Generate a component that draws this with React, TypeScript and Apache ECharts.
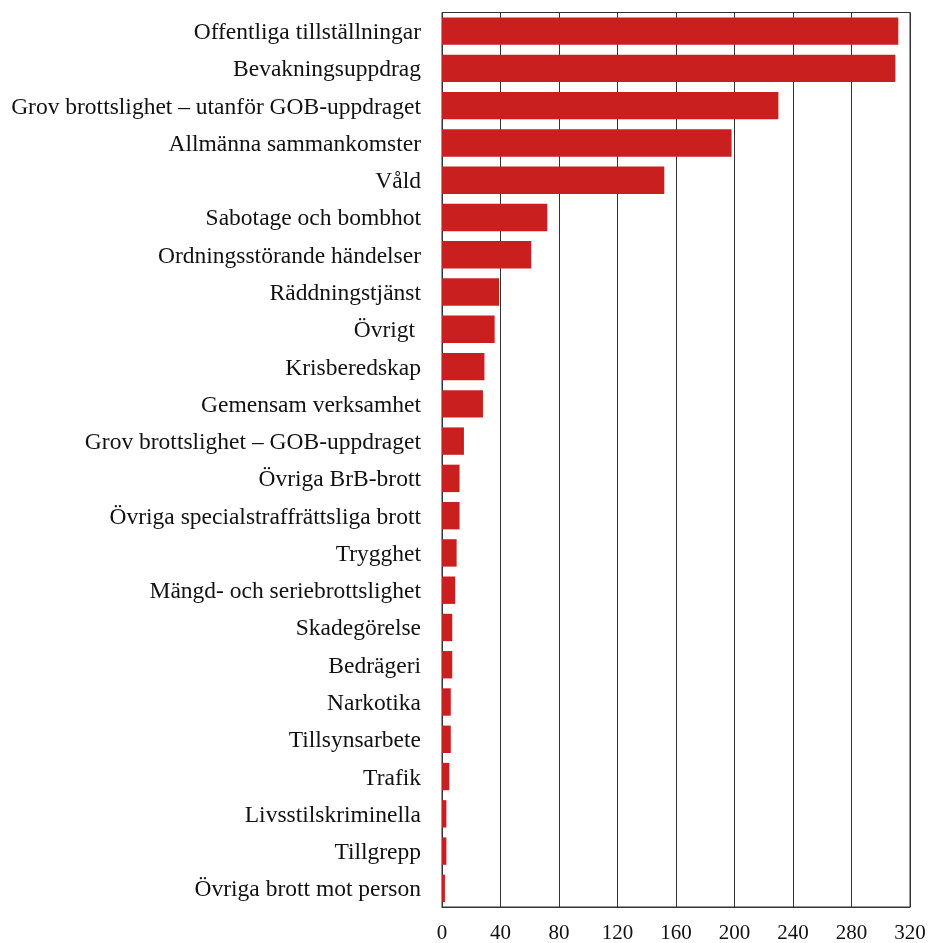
import React, { useEffect, useRef } from "react";
import * as echarts from "echarts";

const categories = [
  "Offentliga tillställningar",
  "Bevakningsuppdrag",
  "Grov brottslighet – utanför GOB-uppdraget",
  "Allmänna sammankomster",
  "Våld",
  "Sabotage och bombhot",
  "Ordningsstörande händelser",
  "Räddningstjänst",
  "Övrigt ",
  "Krisberedskap",
  "Gemensam verksamhet",
  "Grov brottslighet – GOB-uppdraget",
  "Övriga BrB-brott",
  "Övriga specialstraffrättsliga brott",
  "Trygghet",
  "Mängd- och seriebrottslighet",
  "Skadegörelse",
  "Bedrägeri",
  "Narkotika",
  "Tillsynsarbete",
  "Trafik",
  "Livsstilskriminella",
  "Tillgrepp",
  "Övriga brott mot person",
];

const values = [312, 310, 230, 198, 152, 72, 61, 39, 36, 29, 28, 15, 12, 12, 10, 9, 7, 7, 6, 6, 5, 3, 3, 2];

const FONT = "'Liberation Serif', 'DejaVu Serif', serif";

export default function App() {
  const ref = useRef<HTMLDivElement>(null);
  useEffect(() => {
    if (!ref.current) return;
    const chart = echarts.init(ref.current, null, { renderer: "svg" });
    chart.setOption({
      animation: false,
      grid: {
        left: 442,
        right: 20,
        top: 12.5,
        bottom: 36,
        containLabel: false,
        outerBoundsMode: "none",
        show: true,
        borderColor: "#333",
        borderWidth: 1,
        backgroundColor: "transparent",
      },
      xAxis: {
        type: "value",
        min: 0,
        max: 320,
        interval: 40,
        axisLine: { show: true, lineStyle: { color: "#333", width: 1 } },
        axisTick: { show: false },
        axisLabel: { color: "#111", fontFamily: FONT, fontSize: 21, margin: 14 },
        splitLine: { show: true, lineStyle: { color: "#333", width: 1 } },
      },
      yAxis: {
        type: "category",
        inverse: true,
        data: categories,
        axisLine: { show: true, lineStyle: { color: "#333", width: 1 } },
        axisTick: { show: false },
        axisLabel: { color: "#111", fontFamily: FONT, fontSize: 23.5, margin: 21 },
      },
      series: [
        {
          type: "bar",
          data: values,
          barCategoryGap: "26.5%",
          itemStyle: { color: "#c91f1f" },
        },
      ],
    });
    return () => chart.dispose();
  }, []);
  return (
    <div
      ref={ref}
      style={{ position: "fixed", left: 0, top: 0, width: 930, height: 943 }}
    />
  );
}
